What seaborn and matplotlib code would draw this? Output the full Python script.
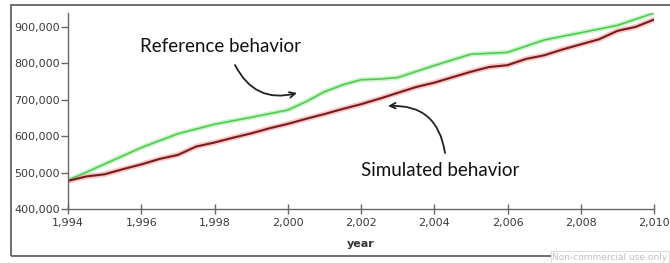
import matplotlib
matplotlib.use("Agg")
import matplotlib.pyplot as plt
import seaborn as sns
import pandas as pd
from matplotlib.patches import Rectangle
from matplotlib.ticker import FuncFormatter

# Reference behavior (green)
ref_years = [1994.0, 1995.0, 1996.0, 1997.0, 1998.0, 1999.0, 2000.0, 2000.5, 2001.0,
             2001.5, 2002.0, 2002.5, 2003.0, 2004.0, 2005.0, 2006.0, 2007.0, 2008.0,
             2009.0, 2010.0]
ref_values = [479000, 524000, 569000, 607000, 633000, 652000, 672000, 695000, 722000,
              741000, 755000, 757000, 761000, 794000, 825000, 830000, 864000, 884000,
              904000, 938000]

# Simulated behavior (dark red)
sim_years = [1994.0, 1994.5, 1995.0, 1995.5, 1996.0, 1996.5, 1997.0, 1997.5, 1998.0,
             1998.5, 1999.0, 1999.5, 2000.0, 2000.5, 2001.0, 2001.5, 2002.0, 2002.5,
             2003.0, 2003.5, 2004.0, 2004.5, 2005.0, 2005.5, 2006.0, 2006.5, 2007.0,
             2007.5, 2008.0, 2008.5, 2009.0, 2009.5, 2010.0]
sim_values = [478000, 490000, 496000, 510000, 523000, 538000, 549000, 572000, 583000,
              596000, 608000, 622000, 634000, 648000, 661000, 675000, 688000, 703000,
              719000, 735000, 747000, 762000, 777000, 790000, 795000, 812000, 822000,
              838000, 852000, 866000, 889000, 900000, 920000]

x_ticks = [1994, 1996, 1998, 2000, 2002, 2004, 2006, 2008, 2010]
y_ticks = [400000, 500000, 600000, 700000, 800000, 900000]

sns.set_style("white")
plt.rcParams['font.family'] = ['DejaVu Sans']

fig = plt.figure(figsize=(6.7, 2.63), dpi=100)
ax = fig.add_axes([68 / 670, 1 - 209.3 / 263, (654 - 68) / 670, (209.3 - 13) / 263])

ref_df = pd.DataFrame({"year": ref_years, "value": ref_values})
sim_df = pd.DataFrame({"year": sim_years, "value": sim_values})

# halos
sns.lineplot(data=ref_df, x="year", y="value", ax=ax, color="#b5efb5", lw=3.5, alpha=0.7)
sns.lineplot(data=sim_df, x="year", y="value", ax=ax, color="#f4b0b0", lw=4, alpha=0.7)
# cores
sns.lineplot(data=ref_df, x="year", y="value", ax=ax, color="#4fcc4f", lw=1.2)
sns.lineplot(data=sim_df, x="year", y="value", ax=ax, color="#7a1c1c", lw=1.5)

ax.set_xlim(1994, 2010)
ax.set_ylim(400000, 938000)
ax.set_xticks(x_ticks)
ax.set_yticks(y_ticks)
ax.xaxis.set_major_formatter(FuncFormatter(lambda v, p: f"{int(round(v)):,}"))
ax.yaxis.set_major_formatter(FuncFormatter(lambda v, p: f"{int(round(v)):,}"))
for s in ["top", "right"]:
    ax.spines[s].set_visible(False)
for s in ["left", "bottom"]:
    ax.spines[s].set_color("#666666")
    ax.spines[s].set_linewidth(1)
ax.tick_params(axis="y", direction="out", length=5, width=1, color="#666666",
               labelsize=8, labelcolor="#3a3a3a", pad=1, left=True)
ax.tick_params(axis="x", direction="inout", length=7, width=1, color="#666666",
               labelsize=8, labelcolor="#3a3a3a", pad=2.5, bottom=True)
ax.set_xlabel("year", fontsize=8, fontweight="bold", color="#333333", labelpad=8)
ax.set_ylabel("")
ax.patch.set_alpha(0)

# outer frame
fig.patches.append(Rectangle((11, 263 - 256), 700, 251, transform=None, fill=False,
                             edgecolor="#555555", lw=1.2))

# annotations
fig.text(221, 263 - 47, "Reference behavior", transform=None, fontsize=13.5,
         family="Lato", ha="center", va="center", color="#111111")
fig.text(440, 263 - 170, "Simulated behavior", transform=None, fontsize=13.5,
         family="Lato", ha="center", va="center", color="#111111")
ax.annotate("", xy=(297, 263 - 93), xycoords="figure pixels",
            xytext=(235, 263 - 65), textcoords="figure pixels",
            arrowprops=dict(arrowstyle="->", color="#222222", lw=1.3,
                            connectionstyle="arc3,rad=0.4", shrinkA=0, shrinkB=0))
ax.annotate("", xy=(388, 263 - 106), xycoords="figure pixels",
            xytext=(445, 263 - 153), textcoords="figure pixels",
            arrowprops=dict(arrowstyle="->", color="#222222", lw=1.3,
                            connectionstyle="arc3,rad=0.45", shrinkA=0, shrinkB=0))

# watermark
fig.text(610, 263 - 257, "Non-commercial use only", transform=None, fontsize=6.5,
         ha="center", va="center", color="#c0c0c0",
         bbox=dict(boxstyle="square,pad=0.2", fc="white", ec="#dddddd", lw=0.8))

fig.savefig("out.png", dpi=100)
